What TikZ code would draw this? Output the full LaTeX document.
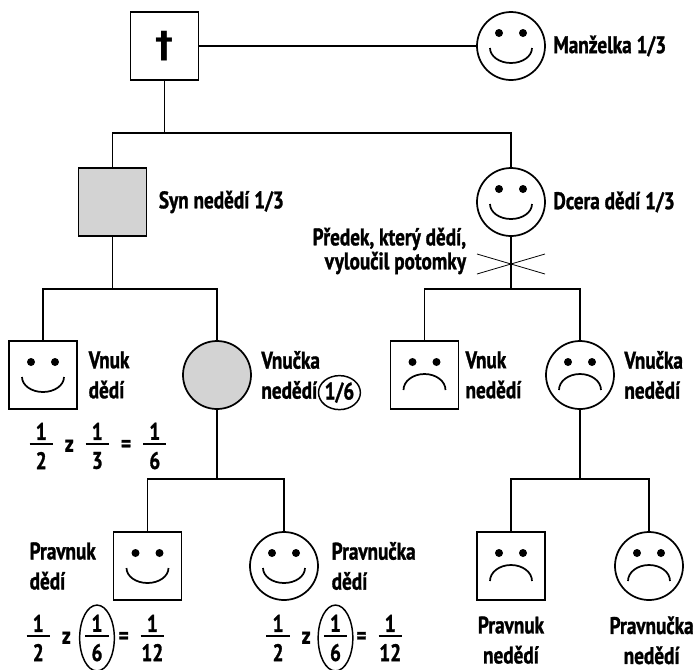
\documentclass[tikz,border=0pt]{standalone}
\usepackage{fontspec}
\setmainfont{PT Sans}[FakeStretch=0.8,FakeBold=1.2]
\newfontfamily\dagfont{DejaVu Sans}
\usetikzlibrary{positioning,shapes.geometric}
\definecolor{shaded}{HTML}{D3D3D3}
\newcommand\zlomek[2]{\ensuremath{\vcenter{\hbox to 17.5pt{\hss#1\hss}\kern2.6pt\hrule height 1.5pt\kern4.9pt\hbox to 17.5pt{\hss#2\hss}}}}
\begin{document}
\begin{tikzpicture}
		[x=0.75pt,y=-0.75pt,line width=1.3pt,%
		  every node/.style={font=\fontsize{18}{22.5}\selectfont\bfseries},
		  man/.style={shape=rectangle,draw,minimum size=51pt,inner sep=0pt},
		  woman/.style={shape=circle,draw,minimum size=51pt,inner sep=0pt},
		  txt/.style={inner sep=0pt,align=left},
		  oval/.style={shape=ellipse,draw,line width=1.1pt,inner sep=0pt,minimum width=26pt,minimum height=48pt},
		  happy/.pic={\fill (-12,-13) circle (4) (12,-13) circle (4);
		    \draw (-21,2) arc[start angle=180,end angle=0,x radius=21,y radius=15];},
		  sad/.pic={\fill (-12,-13) circle (4) (12,-13) circle (4);
		    \draw (-21,15) arc[start angle=180,end angle=360,x radius=21,y radius=16];}]
		\useasboundingbox (0,0) rectangle (694,669);
		\node[man] (dead) at (164.5,46) {\dagfont\fontsize{27}{27}\selectfont †};
		\node[woman] (wife) at (511,46) {};
		\pic at (wife) {happy};
		\node[txt,right=5pt of wife] {Manželka 1/3};
		\draw (dead) -- (wife);
		\node[man,fill=shaded] (son) at (112.5,202) {};
		\node[txt,right=8pt of son] {Syn nedědí 1/3};
		\node[woman] (daughter) at (511,202) {};
		\pic at (daughter) {happy};
		\node[txt,right=5pt of daughter] {Dcera dědí 1/3};
		\node[txt,align=right,anchor=east,font=\fontsize{18}{18}\selectfont\bfseries] (note) at (467,251) {Předek, který dědí,\\vyloučil potomky};
		\coordinate (j1) at (164.5,133);
		\draw (dead) -- (j1) -| (son);
		\draw (j1) -| (daughter);
		\node[man] (grandson1) at (43,375) {};
		\pic at (grandson1) {happy};
		\node[txt,right=7.5pt of grandson1] {Vnuk\\dědí};
		\node[woman,fill=shaded] (granddaughter1) at (217,375) {};
		\node[txt,right=6.5pt of granddaughter1] (gd1txt) {Vnučka\\nedědí};
		\node[shape=ellipse,draw,line width=1.1pt,inner sep=0pt,minimum width=27pt,minimum height=25.5pt,right=2.5pt of gd1txt.south east,anchor=south west,yshift=-4pt] (share) {1/6};
		\coordinate (j2) at (112.5,289);
		\draw (son) -- (j2) -| (grandson1);
		\draw (j2) -| (granddaughter1);
		\node (calc1) at (98,446) {\zlomek12\hspace{9pt}z\hspace{9pt}\zlomek13\hspace{9pt}=\hspace{9pt}\zlomek16};
		\node[man] (grandson2) at (424.5,375) {};
		\pic at (grandson2) {sad};
		\node[txt,right=4pt of grandson2] {Vnuk\\nedědí};
		\node[woman] (granddaughter2) at (580,375) {};
		\pic at (granddaughter2) {sad};
		\node[txt,right=6.5pt of granddaughter2] {Vnučka\\nedědí};
		\coordinate (j3) at (511,289);
		\coordinate (cut) at (511,264);
		\draw (daughter) -- (j3) -| (grandson2);
		\draw (j3) -| (granddaughter2);
		\draw[line width=0.6pt] (cut) ++(-34,-10) -- ++(68,20) (cut) ++(-34,10) -- ++(68,-20);
		\node[man] (ggson1) at (147.5,566) {};
		\pic at (ggson1) {happy};
		\node[txt,left=12pt of ggson1] {Pravnuk\\dědí};
		\node[woman] (ggdaughter1) at (284,566) {};
		\pic at (ggdaughter1) {happy};
		\node[txt,right=9pt of ggdaughter1] {Pravnučka\\dědí};
		\coordinate (j4) at (217,479);
		\draw (granddaughter1) -- (j4) -| (ggson1);
		\draw (j4) -| (ggdaughter1);
		\node[oval] (sixth1) at (97,638) {\zlomek16};
		\node[left=5.5pt of sixth1,inner sep=0pt] {\zlomek12\hspace{9pt}z};
		\node[right=2pt of sixth1,inner sep=0pt] {=\hspace{9pt}\zlomek1{12}};
		\node[oval] (sixth2) at (335.5,638) {\zlomek16};
		\node[left=4.5pt of sixth2,inner sep=0pt] {\zlomek12\hspace{9pt}z};
		\node[right=1.5pt of sixth2,inner sep=0pt] {=\hspace{9pt}\zlomek1{12}};
		\node[man] (ggson2) at (511,566) {};
		\pic at (ggson2) {sad};
		\node[txt,align=center,below=11pt of ggson2] {Pravnuk\\nedědí};
		\node[woman] (ggdaughter2) at (649,566) {};
		\pic at (ggdaughter2) {sad};
		\node[txt,align=center,below=11pt of ggdaughter2,xshift=2pt] {Pravnučka\\nedědí};
		\coordinate (j5) at (580,479);
		\draw (granddaughter2) -- (j5) -| (ggson2);
		\draw (j5) -| (ggdaughter2);
	\end{tikzpicture}
\end{document}
